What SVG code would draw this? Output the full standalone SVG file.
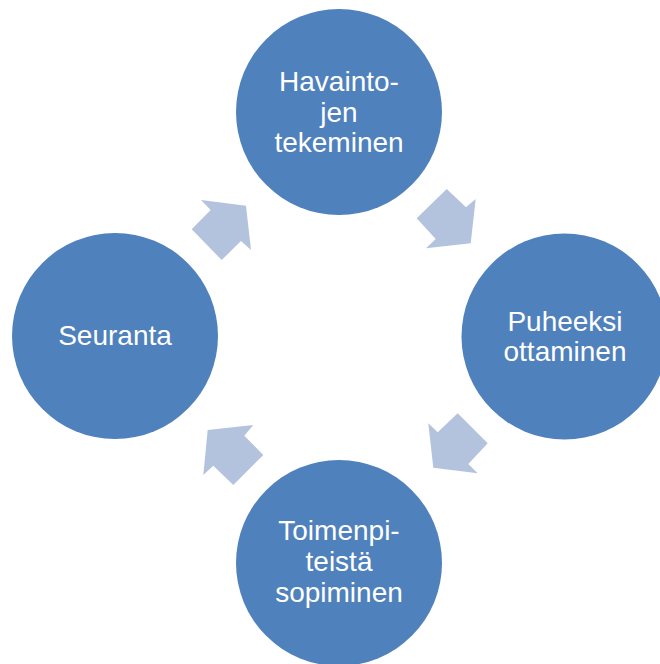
<svg xmlns="http://www.w3.org/2000/svg" width="660" height="664" viewBox="0 0 660 664">
<style>
.node{fill:#4F81BD}
.arr{fill:#B3C3DE}
.lbl{fill:#FFFFFF;font-family:"Liberation Sans",Arial,sans-serif;font-size:28px;text-anchor:middle}
</style>
<rect width="660" height="664" fill="#FFFFFF"/>
<g id="connectors">
<polygon class="arr" points="246,205.7 251,250 241,241 221.7,260 191.7,229.3 210.7,210 201,200"/>
<polygon class="arr" points="470.7,243.3 426,248.3 435.7,239 416.7,218.3 446.7,189 466,207.3 475.7,199"/>
<polygon class="arr" points="433.3,467.7 428.3,423.3 437.7,432.3 457.7,413.3 487.7,443.3 468.3,464 477.7,473.3"/>
<polygon class="arr" points="207.7,430 253.3,425 244.3,435.7 263.3,455 233.3,485 213.3,465.7 203.3,475"/>
</g>
<g id="node-havaintojen">
<circle class="node" cx="339" cy="112" r="103"/>
<text class="lbl" x="339" y="91">Havainto-</text>
<text class="lbl" x="339" y="121.5">jen</text>
<text class="lbl" x="339" y="152">tekeminen</text>
</g>
<g id="node-puheeksi">
<circle class="node" cx="564.5" cy="336.5" r="103"/>
<text class="lbl" x="565" y="331">Puheeksi</text>
<text class="lbl" x="565" y="361">ottaminen</text>
</g>
<g id="node-toimenpiteista">
<circle class="node" cx="339" cy="563" r="103"/>
<text class="lbl" x="339" y="539.5">Toimenpi-</text>
<text class="lbl" x="339" y="570.5">teistä</text>
<text class="lbl" x="339" y="601.5">sopiminen</text>
</g>
<g id="node-seuranta">
<circle class="node" cx="115" cy="336" r="103"/>
<text class="lbl" x="115" y="345">Seuranta</text>
</g>
</svg>
